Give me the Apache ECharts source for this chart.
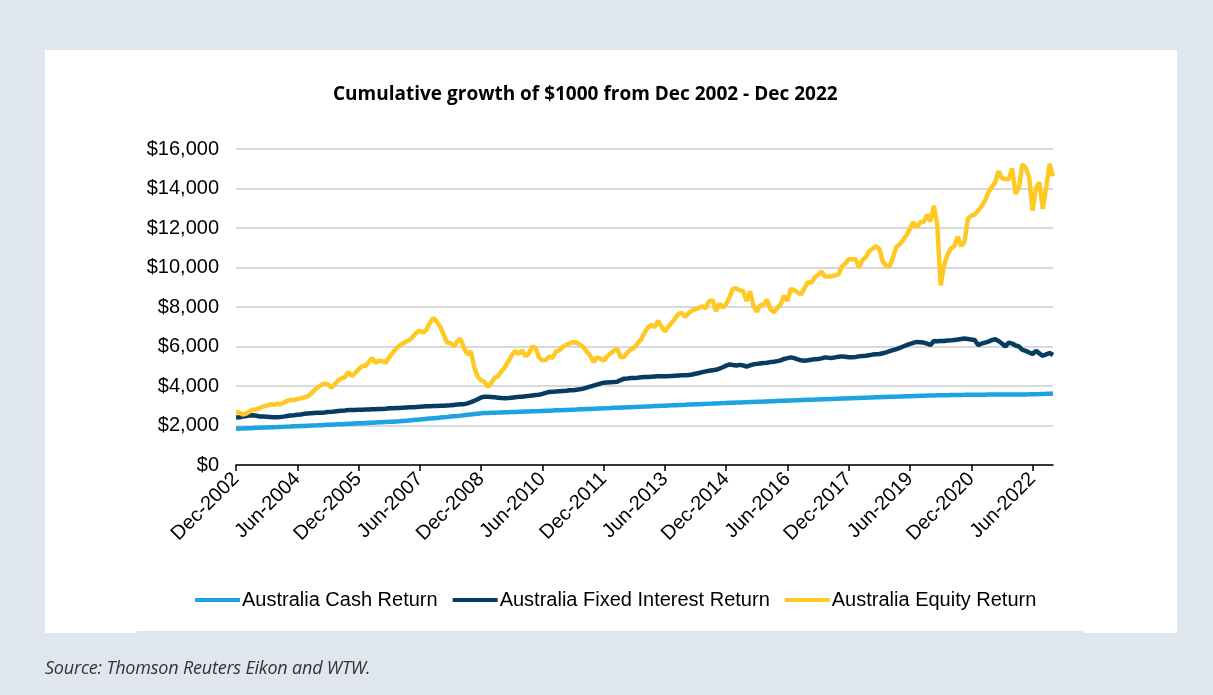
<!DOCTYPE html>
<html>
<head>
<meta charset="utf-8">
<script src="https://cdn.jsdelivr.net/npm/echarts@6/dist/echarts.min.js"></script>
<style>
  html, body { margin: 0; padding: 0; }
  body { width: 1213px; height: 695px; background: #dfe6ed; position: relative; overflow: hidden; }
  .panel { position: absolute; left: 45px; top: 50px; width: 1132px; height: 583px; background: #fff; }
  .rule { position: absolute; left: 137px; top: 631px; width: 946px; height: 2px; background: #e3e3e3; }
  #chart { position: absolute; left: 0; top: 0; width: 1213px; height: 695px; }
  .source { position: absolute; left: 45px; top: 655px; font-family: 'Open Sans', sans-serif; font-style: italic;
            font-size: 18px; color: #333; letter-spacing: -0.2px; }
</style>
</head>
<body>
<div class="panel"></div>
<div class="rule"></div>
<div id="chart"></div>
<div class="source">Source: Thomson Reuters Eikon and WTW.</div>
<script>
// monthly points, Dec 2002 .. Dec 2022
const monthNames = ['Jan', 'Feb', 'Mar', 'Apr', 'May', 'Jun', 'Jul', 'Aug', 'Sep', 'Oct', 'Nov', 'Dec']
const categories = []
for (let i = 0; i <= 240; i++) {
  const mi = (11 + i) % 12
  const yr = 2002 + Math.floor((11 + i) / 12)
  categories.push(monthNames[mi] + '-' + yr)
}

const seriesNames = ['Australia Cash Return', 'Australia Fixed Interest Return', 'Australia Equity Return']

const cash = [
  1840, 1847, 1853, 1860, 1867, 1873, 1880, 1887, 1893, 1900, 1907, 1913,
  1920, 1928, 1935, 1943, 1950, 1958, 1965, 1973, 1980, 1988, 1995, 2003,
  2010, 2018, 2027, 2035, 2043, 2052, 2060, 2068, 2077, 2085, 2093, 2102,
  2110, 2118, 2127, 2135, 2143, 2152, 2160, 2168, 2177, 2185, 2193, 2202,
  2210, 2226, 2242, 2258, 2274, 2290, 2306, 2322, 2338, 2354, 2370, 2385,
  2400, 2417, 2433, 2450, 2467, 2483, 2500, 2520, 2540, 2560, 2580, 2600,
  2620, 2627, 2633, 2640, 2647, 2653, 2660, 2667, 2673, 2680, 2687, 2693,
  2700, 2707, 2713, 2720, 2727, 2733, 2740, 2747, 2753, 2760, 2767, 2773,
  2780, 2788, 2795, 2803, 2810, 2818, 2825, 2833, 2840, 2848, 2855, 2863,
  2870, 2878, 2885, 2893, 2900, 2908, 2915, 2923, 2930, 2938, 2945, 2953,
  2960, 2968, 2975, 2983, 2990, 2998, 3005, 3013, 3020, 3028, 3035, 3043,
  3050, 3058, 3065, 3073, 3080, 3088, 3095, 3103, 3110, 3118, 3125, 3133,
  3140, 3147, 3153, 3160, 3167, 3173, 3180, 3187, 3193, 3200, 3207, 3213,
  3220, 3227, 3233, 3240, 3247, 3253, 3260, 3267, 3273, 3280, 3287, 3293,
  3300, 3307, 3313, 3320, 3327, 3333, 3340, 3347, 3353, 3360, 3367, 3373,
  3380, 3386, 3392, 3398, 3404, 3410, 3415, 3421, 3427, 3433, 3439, 3444,
  3450, 3456, 3462, 3468, 3474, 3480, 3485, 3491, 3497, 3503, 3509, 3514,
  3520, 3523, 3527, 3530, 3533, 3537, 3540, 3543, 3547, 3550, 3553, 3557,
  3560, 3561, 3562, 3562, 3563, 3564, 3565, 3566, 3567, 3568, 3568, 3569,
  3570, 3571, 3572, 3574, 3575, 3577, 3580, 3584, 3589, 3596, 3603, 3611, 3620
]

const fixedInterest = [
  2400, 2420, 2450, 2480, 2510, 2520, 2490, 2460, 2450, 2440, 2430, 2420,
  2420, 2430, 2450, 2480, 2510, 2520, 2540, 2560, 2590, 2610, 2620, 2630,
  2640, 2650, 2660, 2680, 2690, 2710, 2730, 2750, 2760, 2780, 2790, 2790,
  2800, 2800, 2810, 2810, 2820, 2820, 2830, 2840, 2850, 2870, 2870, 2880,
  2890, 2900, 2910, 2920, 2930, 2940, 2950, 2960, 2970, 2980, 2990, 2990,
  3000, 3000, 3010, 3020, 3040, 3060, 3070, 3080, 3120, 3180, 3250, 3330,
  3420, 3460, 3450, 3440, 3430, 3410, 3390, 3380, 3390, 3410, 3430, 3450,
  3460, 3480, 3500, 3520, 3540, 3560, 3600, 3650, 3700, 3710, 3720, 3740,
  3750, 3760, 3780, 3790, 3810, 3830, 3870, 3920, 3970, 4020, 4070, 4120,
  4170, 4180, 4190, 4200, 4220, 4300, 4370, 4380, 4400, 4410, 4420, 4440,
  4450, 4460, 4470, 4480, 4490, 4490, 4500, 4500, 4510, 4520, 4530, 4540,
  4540, 4560, 4580, 4620, 4660, 4700, 4740, 4770, 4800, 4820, 4880, 4950,
  5030, 5090, 5060, 5040, 5070, 5040, 4980, 5040, 5100, 5120, 5140, 5160,
  5180, 5210, 5230, 5260, 5300, 5370, 5410, 5450, 5410, 5350, 5300, 5280,
  5300, 5330, 5360, 5370, 5400, 5450, 5430, 5420, 5450, 5480, 5500, 5480,
  5460, 5450, 5470, 5500, 5520, 5530, 5560, 5590, 5610, 5620, 5660, 5700,
  5760, 5820, 5870, 5930, 6000, 6070, 6130, 6180, 6230, 6220, 6200, 6140,
  6080, 6280, 6270, 6280, 6280, 6300, 6310, 6330, 6350, 6380, 6400, 6380,
  6350, 6330, 6070, 6150, 6200, 6250, 6320, 6370, 6280, 6150, 6000, 6200,
  6150, 6050, 6000, 5830, 5780, 5700, 5620, 5780, 5650, 5530, 5600, 5670, 5570
]

const equity = [
  2700, 2650, 2560, 2600, 2720, 2800, 2820, 2900, 2970, 3000, 3080, 3050,
  3100, 3060, 3150, 3250, 3300, 3280, 3340, 3370, 3420, 3470, 3600, 3780,
  3920, 4050, 4120, 4080, 3920, 4080, 4280, 4380, 4450, 4720, 4500, 4650,
  4850, 5000, 5020, 5200, 5420, 5170, 5280, 5270, 5180, 5450, 5680, 5880,
  6050, 6150, 6250, 6330, 6500, 6700, 6800, 6700, 6880, 7200, 7450, 7250,
  7000, 6600, 6200, 6170, 6000, 6280, 6380, 5900, 5600, 5750, 4950, 4450,
  4300, 4200, 3950, 4150, 4420, 4500, 4750, 4950, 5250, 5550, 5780, 5620,
  5800, 5520, 5630, 6000, 5920, 5450, 5300, 5320, 5480, 5430, 5750, 5800,
  5980, 6080, 6150, 6220, 6200, 6100, 5980, 5750, 5550, 5200, 5450, 5380,
  5270, 5500, 5650, 5780, 5880, 5450, 5480, 5700, 5850, 5950, 6150, 6350,
  6700, 6950, 7100, 6980, 7300, 7000, 6760, 7000, 7200, 7430, 7650, 7700,
  7500, 7700, 7820, 7890, 7950, 8030, 7930, 8300, 8340, 7800, 8170, 7970,
  8150, 8500, 8940, 8940, 8850, 8800, 8300, 8800, 8060, 7760, 8090, 8110,
  8360, 7890, 7730, 7950, 8140, 8560, 8310, 8920, 8840, 8740, 8640, 8950,
  9250, 9220, 9500, 9630, 9800, 9550, 9550, 9560, 9600, 9650, 10050, 10200,
  10420, 10420, 10420, 10000, 10380, 10520, 10830, 10950, 11080, 10930, 10300, 10080,
  10050, 10520, 11050, 11180, 11400, 11650, 11970, 12300, 12020, 12300, 12300, 12680,
  12330, 13130, 12130, 9100, 10130, 10630, 10970, 11080, 11550, 11080, 11300, 12470,
  12630, 12680, 12880, 13100, 13380, 13800, 14080, 14300, 14880, 14520, 14480, 14470,
  15020, 13720, 14050, 15220, 15050, 14550, 12880, 14050, 14300, 12970, 14050, 15250, 14630
]

const colors = ['#1ca3e0', '#063c62', '#ffc924']

const myChart = echarts.init(document.getElementById('chart'), null, { renderer: 'canvas' })
const option = {
  backgroundColor: 'transparent',
  animation: false,
  color: colors,
  textStyle: { fontFamily: "'Liberation Sans', Arial, sans-serif" },
  title: {
    text: 'Cumulative growth of $1000 from Dec 2002 - Dec 2022',
    left: 333,
    top: 85,
    padding: 0,
    textStyle: {
      fontFamily: "'Open Sans', sans-serif",
      fontWeight: 'bold',
      fontSize: 19,
      color: '#000'
    }
  },
  legend: {
    left: 195,
    top: 590,
    icon: 'rect',
    itemWidth: 45,
    itemHeight: 4,
    itemGap: 15,
    padding: 0,
    textStyle: { fontSize: 20, color: '#000', padding: [0, 0, 0, -3] },
    data: seriesNames
  },
  grid: { left: 236, right: 160, top: 149, bottom: 230 },
  xAxis: {
    type: 'category',
    boundaryGap: false,
    data: categories,
    axisLine: { lineStyle: { color: '#000', width: 1.5 } },
    axisTick: { interval: 17, length: 6, lineStyle: { color: '#000', width: 1.5 } },
    axisLabel: { interval: 17, rotate: 45, fontSize: 20, color: '#000', margin: 11 }
  },
  yAxis: {
    type: 'value',
    min: 0,
    max: 16000,
    interval: 2000,
    axisLine: { show: false },
    axisTick: { show: false },
    axisLabel: {
      fontSize: 20,
      color: '#000',
      margin: 17,
      formatter: v => '$' + v.toLocaleString('en-US')
    },
    splitLine: { lineStyle: { color: '#d9d9d9', width: 2 } }
  },
  series: [
    { name: seriesNames[0], type: 'line', data: cash, showSymbol: false, lineStyle: { width: 4.5 } },
    { name: seriesNames[1], type: 'line', data: fixedInterest, showSymbol: false, lineStyle: { width: 4.5 } },
    { name: seriesNames[2], type: 'line', data: equity, showSymbol: false, lineStyle: { width: 4.5 } }
  ]
}
myChart.setOption(option)
window.addEventListener('resize', () => myChart.resize())
</script>
</body>
</html>
